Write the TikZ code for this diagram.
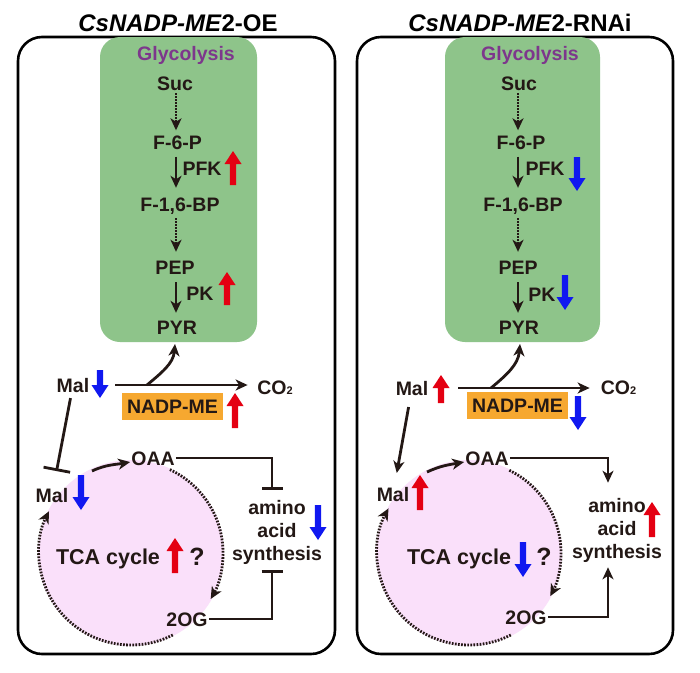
\documentclass[tikz,border=0pt]{standalone}
\usepackage{fontspec}
\setmainfont{Liberation Sans}
\usetikzlibrary{arrows.meta}
\definecolor{glyg}{RGB}{142,196,138}
\definecolor{tcapink}{RGB}{250,224,250}
\definecolor{meorange}{RGB}{246,168,48}
\definecolor{upred}{RGB}{228,0,18}
\definecolor{dnblue}{RGB}{16,24,240}
\definecolor{glypurple}{RGB}{125,55,140}
\definecolor{ink}{RGB}{35,24,21}
\newcommand\lblfont{\fontsize{19.5}{23}\selectfont\bfseries}
\newcommand\ttlfont{\fontsize{24}{28}\selectfont\bfseries}
\newcommand\tcafont{\fontsize{21.5}{25}\selectfont\bfseries}
\newcommand\qfont{\fontsize{25}{28}\selectfont\bfseries}
\newcommand\UpA[4]{\fill[#4] ({#1-3.2},{#2+#3}) -- ({#1-3.2},{#2-#3+13}) -- ({#1-8.5},{#2-#3+13}) -- (#1,{#2-#3}) -- ({#1+8.5},{#2-#3+13}) -- ({#1+3.2},{#2-#3+13}) -- ({#1+3.2},{#2+#3}) -- cycle;}
\newcommand\DnA[4]{\fill[#4] ({#1-3.2},{#2-#3}) -- ({#1-3.2},{#2+#3-13}) -- ({#1-8.5},{#2+#3-13}) -- (#1,{#2+#3}) -- ({#1+8.5},{#2+#3-13}) -- ({#1+3.2},{#2+#3-13}) -- ({#1+3.2},{#2-#3}) -- cycle;}
\begin{document}
\begin{tikzpicture}[x=1pt,y=-1pt,
  panel/.style={draw=black, line width=2.6pt, rounded corners=24pt},
  lbl/.style={font=\lblfont, inner sep=1pt, text height=14pt, text depth=0pt, text=ink},
  multi/.style={font=\lblfont, inner sep=1pt, align=center, text=ink},
  conn/.style={draw=ink, line width=2.8pt, -{Stealth[length=12pt,width=11pt,inset=3.5pt]}},
  dotconn/.style={conn, dash pattern=on 1.7pt off 1.3pt},
  inh/.style={draw=ink, line width=2.8pt, -{Bar[width=#1]}},
  inh/.default=21pt,
  dotarc/.style={draw=ink, line width=2.8pt, dash pattern=on 1.7pt off 1.4pt, -{Stealth[length=12pt,width=11pt,inset=3.5pt]}},
  ttl/.style={font=\ttlfont, inner sep=0pt, text=black}
]
\useasboundingbox (0,0) rectangle (700,672);
\fill[white] (0,0) rectangle (700,672);

% ================= LEFT PANEL =================
\node[ttl] (Ltitle) at (178,23) {\textit{CsNADP-ME}2-OE};
\draw[panel] (18,37) rectangle (335,654);
\fill[glyg, rounded corners=20pt] (100,37) rectangle (257,342);
\fill[tcapink] (131,553) circle[radius=93];

\node[lbl, text=glypurple] (LGly) at (186,53) {Glycolysis};
\node[lbl] (LSuc) at (175,83) {Suc};
\node[lbl] (LF6P) at (177.5,142.5) {F-6-P};
\node[lbl] (LPFK) at (202,168) {PFK};
\node[lbl] (LF16) at (180,204) {F-1,6-BP};
\node[lbl] (LPEP) at (175,267) {PEP};
\node[lbl] (LPK) at (200,293) {PK};
\node[lbl] (LPYR) at (177,327) {PYR};
\coordinate (Lax) at (176,0);
\draw[dotconn, shorten <=2pt, shorten >=4pt] (LSuc.south -| Lax) -- (LF6P.north -| Lax);
\draw[conn, shorten <=6pt, shorten >=8pt] (LF6P.south -| Lax) -- (LF16.north -| Lax);
\draw[dotconn, shorten <=6pt, shorten >=7pt] (LF16.south -| Lax) -- (LPEP.north -| Lax);
\draw[conn, shorten <=7pt, shorten >=6pt] (LPEP.south -| Lax) -- (LPYR.north -| Lax);

\node[lbl] (LMal) at (73,385) {Mal};
\node[lbl] (LCO2) at (275,387.5) {CO{\fontsize{11}{11}\selectfont 2}};
\draw[conn, shorten <=25pt, shorten >=8.5pt] (LMal.east) -- (LMal.east -| LCO2.west);
\coordinate (Lbr) at (147,385);
\coordinate (Ltip) at (175,344);
\draw[conn] (Lbr) to[out=40,in=-95] (Ltip);
\node[lbl, fill=meorange, minimum width=101pt, minimum height=27pt] (LME) at (172.5,406) {NADP-ME};

\node[lbl] (LMal2) at (52,495) {Mal};
\draw[inh=27pt, shorten <=5pt, shorten >=16pt] (LMal) -- (LMal2);
\node[lbl] (LOAA) at (153,458) {OAA};
\coordinate (Lma) at (92,471);
\draw[conn] (Lma) to[out=25,in=190] (LOAA);
\node[multi] (LAA) at (277,532) {amino\\acid\\synthesis};
\draw[inh, shorten >=9pt] (LOAA.east) -| ([xshift=-5pt]LAA.north);
\node[lbl] (L2OG) at (187,619) {2OG};
\draw[inh, shorten >=5pt] (L2OG.east) -| ([xshift=-5pt]LAA.south);
\node[lbl, font=\tcafont, text height=15.5pt] (LTCA) at (108,557) {TCA cycle};
\node[lbl, font=\qfont, text height=18pt] (Lq) at (197,556) {?};
\draw[dotarc] (131,553) ++(-65:92) arc[start angle=-65, end angle=30, radius=92];
\draw[dotarc] (131,553) ++(63:92) arc[start angle=63, end angle=207, radius=92];

\UpA{233}{168}{17}{upred}
\UpA{227}{288.5}{16.5}{upred}
\DnA{100}{384}{14}{dnblue}
\UpA{235}{410.5}{17.5}{upred}
\DnA{81}{492.5}{17.5}{dnblue}
\DnA{318}{522.5}{17.5}{dnblue}
\UpA{175}{555.5}{17.5}{upred}

% ================= RIGHT PANEL =================
\node[ttl] (Rtitle) at (520,23) {\textit{CsNADP-ME}2-RNAi};
\draw[panel] (357,37) rectangle (673,654);
\fill[glyg, rounded corners=20pt] (445,37) rectangle (600,342);
\fill[tcapink] (469,553) circle[radius=93];

\node[lbl, text=glypurple] (RGly) at (530,53) {Glycolysis};
\node[lbl] (RSuc) at (519,83) {Suc};
\node[lbl] (RF6P) at (521,142.5) {F-6-P};
\node[lbl] (RPFK) at (545,168) {PFK};
\node[lbl] (RF16) at (523,204) {F-1,6-BP};
\node[lbl] (RPEP) at (518,267) {PEP};
\node[lbl] (RPK) at (542,294) {PK};
\node[lbl] (RPYR) at (519,327) {PYR};
\coordinate (Rax) at (518,0);
\draw[dotconn, shorten <=2pt, shorten >=4pt] (RSuc.south -| Rax) -- (RF6P.north -| Rax);
\draw[conn, shorten <=6pt, shorten >=8pt] (RF6P.south -| Rax) -- (RF16.north -| Rax);
\draw[dotconn, shorten <=6pt, shorten >=7pt] (RF16.south -| Rax) -- (RPEP.north -| Rax);
\draw[conn, shorten <=7pt, shorten >=6pt] (RPEP.south -| Rax) -- (RPYR.north -| Rax);

\node[lbl] (RMal) at (412,388) {Mal};
\node[lbl] (RCO2) at (618.5,387.5) {CO{\fontsize{11}{11}\selectfont 2}};
\draw[conn, shorten <=28.7pt, shorten >=10pt] (RMal.east) -- (RMal.east -| RCO2.west);
\coordinate (Rbr) at (491,388);
\coordinate (Rtip) at (520,344);
\draw[conn] (Rbr) to[out=40,in=-95] (Rtip);
\node[lbl, fill=meorange, minimum width=101pt, minimum height=27pt] (RME) at (517.5,405.5) {NADP-ME};

\node[lbl] (RMal2) at (393,494) {Mal};
\draw[conn, shorten <=11pt, shorten >=13pt] (RMal) -- (RMal2);
\node[lbl] (ROAA) at (487,458) {OAA};
\coordinate (Rma) at (427,472);
\draw[conn] (Rma) to[out=25,in=190] (ROAA);
\node[multi] (RAA) at (617,530.5) {amino\\acid\\synthesis};
\draw[conn, shorten >=14.5pt] (ROAA.east) -| ([xshift=-9pt]RAA.north);
\node[lbl] (R2OG) at (526,617) {2OG};
\draw[conn, shorten >=3.5pt] (R2OG.east) -| ([xshift=-9pt]RAA.south);
\node[lbl, font=\tcafont, text height=15.5pt] (RTCA) at (459,557) {TCA cycle};
\node[lbl, font=\qfont, text height=18pt] (Rq) at (544,556) {?};
\draw[dotarc] (469,553) ++(-64:92) arc[start angle=-64, end angle=28, radius=92];
\draw[dotarc] (469,553) ++(63:92) arc[start angle=63, end angle=209, radius=92];

\DnA{577}{174}{17}{dnblue}
\DnA{565}{292.5}{17.5}{dnblue}
\UpA{441}{389}{14}{upred}
\DnA{578}{413}{17}{dnblue}
\UpA{420}{492.5}{17.5}{upred}
\UpA{652}{519.5}{17.5}{upred}
\DnA{523}{559.5}{17.5}{dnblue}
\end{tikzpicture}
\end{document}
